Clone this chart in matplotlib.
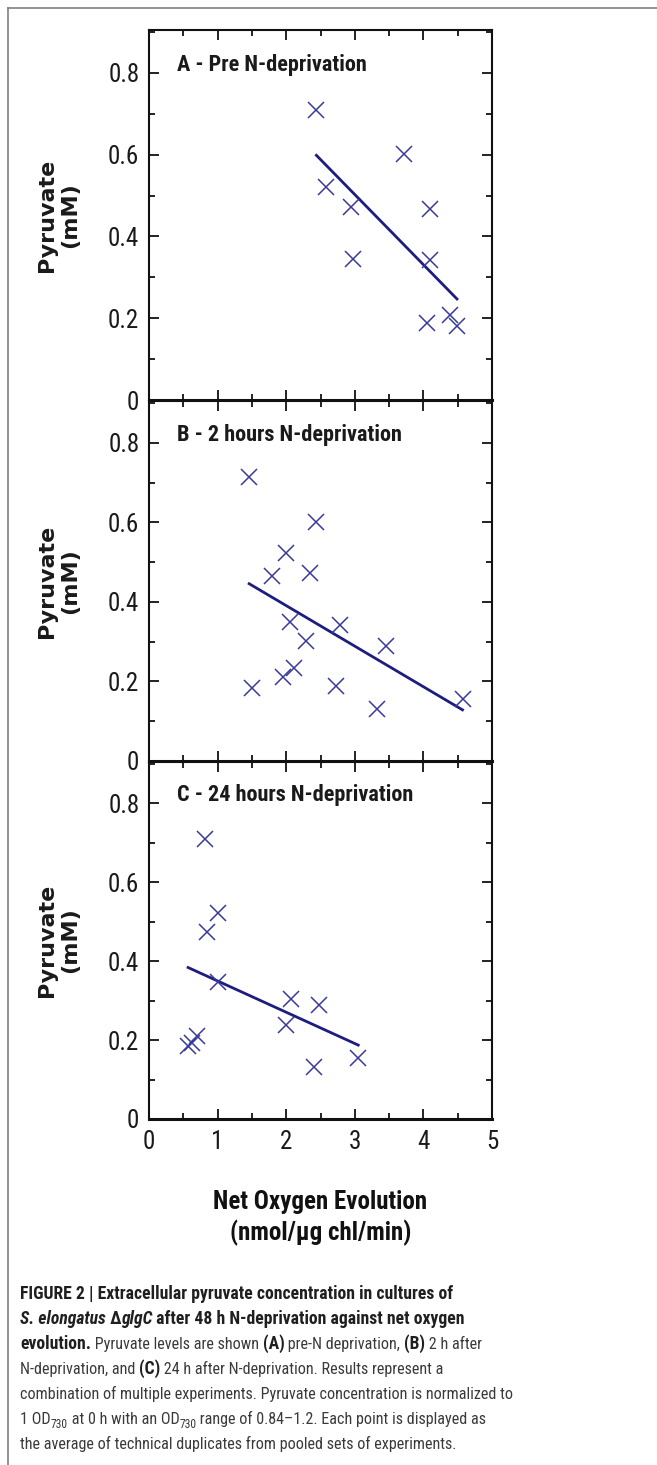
import numpy as np
import matplotlib
matplotlib.use("Agg")
import matplotlib.pyplot as plt
from matplotlib import font_manager as fm
from matplotlib.ticker import MultipleLocator, FuncFormatter

W, H = 657, 1465

# panel A - pre N-deprivation
a_x = [2.44, 2.58, 2.95, 2.98, 3.71, 4.09, 4.09, 4.05, 4.39, 4.49]
a_y = [0.710, 0.520, 0.473, 0.344, 0.601, 0.467, 0.343, 0.189, 0.208, 0.181]

# panel B - 2 h N-deprivation
b_x = [1.46, 1.50, 1.79, 2.00, 1.95, 2.06, 2.12, 2.29, 2.35, 2.43, 2.78, 2.73, 3.46, 3.33, 4.57]
b_y = [0.713, 0.184, 0.466, 0.522, 0.212, 0.350, 0.235, 0.302, 0.473, 0.601, 0.342, 0.189, 0.290, 0.130, 0.155]

# panel C - 24 h N-deprivation
c_x = [0.82, 0.85, 1.00, 1.00, 0.57, 0.63, 0.695, 2.00, 2.07, 2.48, 2.41, 3.05]
c_y = [0.710, 0.474, 0.521, 0.348, 0.185, 0.192, 0.210, 0.238, 0.305, 0.289, 0.131, 0.154]

titles = ["A - Pre N-deprivation", "B - 2 hours N-deprivation", "C - 24 hours N-deprivation"]
x_ticks = [0, 1, 2, 3, 4, 5]
y_ticks = [0, 0.2, 0.4, 0.6, 0.8]


def pick(names):
    have = {f.name for f in fm.fontManager.ttflist}
    for n in names:
        if n in have:
            return n
    return "DejaVu Sans"


narrow = pick(["Liberation Sans Narrow", "DejaVu Sans Condensed", "Roboto Condensed", "Liberation Sans"])

fig = plt.figure(figsize=(W / 100, H / 100), dpi=100)

# px boxes (left, top, right, bottom)
boxes = [(149, 30, 492, 400), (149, 401, 492, 761), (149, 762, 492, 1119)]
data = [(a_x, a_y), (b_x, b_y), (c_x, c_y)]

mark_col = "#3a3a9c"
line_col = "#1d1d7f"

axes = []
for i, ((l, t, r, b), (xs, ys)) in enumerate(zip(boxes, data)):
    ax = fig.add_axes([l / W, 1 - b / H, (r - l) / W, (b - t) / H])
    axes.append(ax)
    ax.plot(xs, ys, "x", ms=11, mew=1.1, color=mark_col, zorder=3)
    coef = np.polyfit(xs, ys, 1)
    lx = np.array([min(xs), max(xs)])
    ax.plot(lx, np.polyval(coef, lx), color=line_col, lw=2.0, zorder=2)

    ax.set_xlim(0, 5)
    ax.set_ylim(0, 0.905)
    ax.set_xticks(x_ticks)
    ax.set_yticks(y_ticks)
    ax.xaxis.set_minor_locator(MultipleLocator(0.5))
    ax.yaxis.set_minor_locator(MultipleLocator(0.1))
    ax.yaxis.set_major_formatter(FuncFormatter(lambda v, p: "0" if v == 0 else f"{v:.1f}"))
    ax.tick_params(which="both", direction="in", top=True, right=True, width=1.3, color="#111111")
    ax.tick_params(which="major", length=7.5)
    ax.tick_params(which="minor", length=4.5)
    ax.tick_params(axis="y", which="major", pad=7)
    ax.tick_params(axis="x", which="major", pad=8)
    ax.tick_params(labelsize=18, labelcolor="#1a1a1a")
    for lab in ax.get_xticklabels() + ax.get_yticklabels():
        lab.set_fontfamily(narrow)
    if i < 2:
        ax.tick_params(axis="x", labelbottom=False)
    for s in ["left", "right", "top"]:
        ax.spines[s].set_linewidth(1.5)
    ax.spines["bottom"].set_linewidth(2.2)
    for s in ax.spines.values():
        s.set_color("#111111")

    ax.text(0.41, 0.805, titles[i], fontsize=16, fontweight="bold", family=narrow,
            color="#1a1a1a", va="baseline", ha="left")
    ax.text(-0.263, 0.5, "Pyruvate\n(mM)", rotation=90, transform=ax.transAxes,
            ha="center", va="center", multialignment="center", fontsize=16,
            fontweight="bold", family="DejaVu Sans", color="#1a1a1a", linespacing=1.2)

fig.text(320.5 / W, 1 - 1218 / H, "Net Oxygen Evolution\n(nmol/µg chl/min)", ha="center",
         va="center", multialignment="center", fontsize=18, fontweight="bold",
         family=narrow, color="#111111", linespacing=1.25)

# outer frame (top and left edges)
fig.add_artist(plt.Line2D([8 / W, 8 / W], [0, 1 - 8 / H], color="#808080", lw=1.2))
fig.add_artist(plt.Line2D([8 / W, 1], [1 - 8 / H, 1 - 8 / H], color="#808080", lw=1.2))

# caption
renderer = fig.canvas.get_renderer()
R = dict(family=narrow, fontsize=11.6, color="#3a3a3a")
B = dict(family=narrow, fontsize=12.7, color="#1f1f1f", fontweight="bold")
BI = dict(family=narrow, fontsize=12.7, color="#1f1f1f", fontweight="bold", style="italic")
SUB = dict(family=narrow, fontsize=8.3, color="#3a3a3a")


def width(txt, kw):
    t = fig.text(0, 0, "|" + txt + "|", **kw)
    w1 = t.get_window_extent(renderer).width
    t.set_text("||")
    w2 = t.get_window_extent(renderer).width
    t.remove()
    return w1 - w2


def rich(y_px, pieces):
    x = 20.0
    for txt, kw in pieces:
        dy = 4 if kw is SUB else 0
        fig.text(x / W, 1 - (y_px + dy) / H, txt, ha="left", va="baseline", **kw)
        x += width(txt, kw)


caption = [
    (1299, [("FIGURE 2 | Extracellular pyruvate concentration in cultures of", B)]),
    (1324, [("S. elongatus", BI), (" \u0394", B), ("glgC", BI),
            (" after 48 h N-deprivation against net oxygen", B)]),
    (1349, [("evolution.", B), (" Pyruvate levels are shown ", R), ("(A)", B),
            (" pre-N deprivation, ", R), ("(B)", B), (" 2 h after", R)]),
    (1374, [("N-deprivation, and ", R), ("(C)", B), (" 24 h after N-deprivation. Results represent a", R)]),
    (1399, [("combination of multiple experiments. Pyruvate concentration is normalized to", R)]),
    (1424, [("1 OD", R), ("730", SUB), (" at 0 h with an OD", R), ("730", SUB),
            (" range of 0.84\u20131.2. Each point is displayed as", R)]),
    (1449, [("the average of technical duplicates from pooled sets of experiments.", R)]),
]
for y_px, pieces in caption:
    rich(y_px, pieces)

fig.savefig("out.png", dpi=100)
